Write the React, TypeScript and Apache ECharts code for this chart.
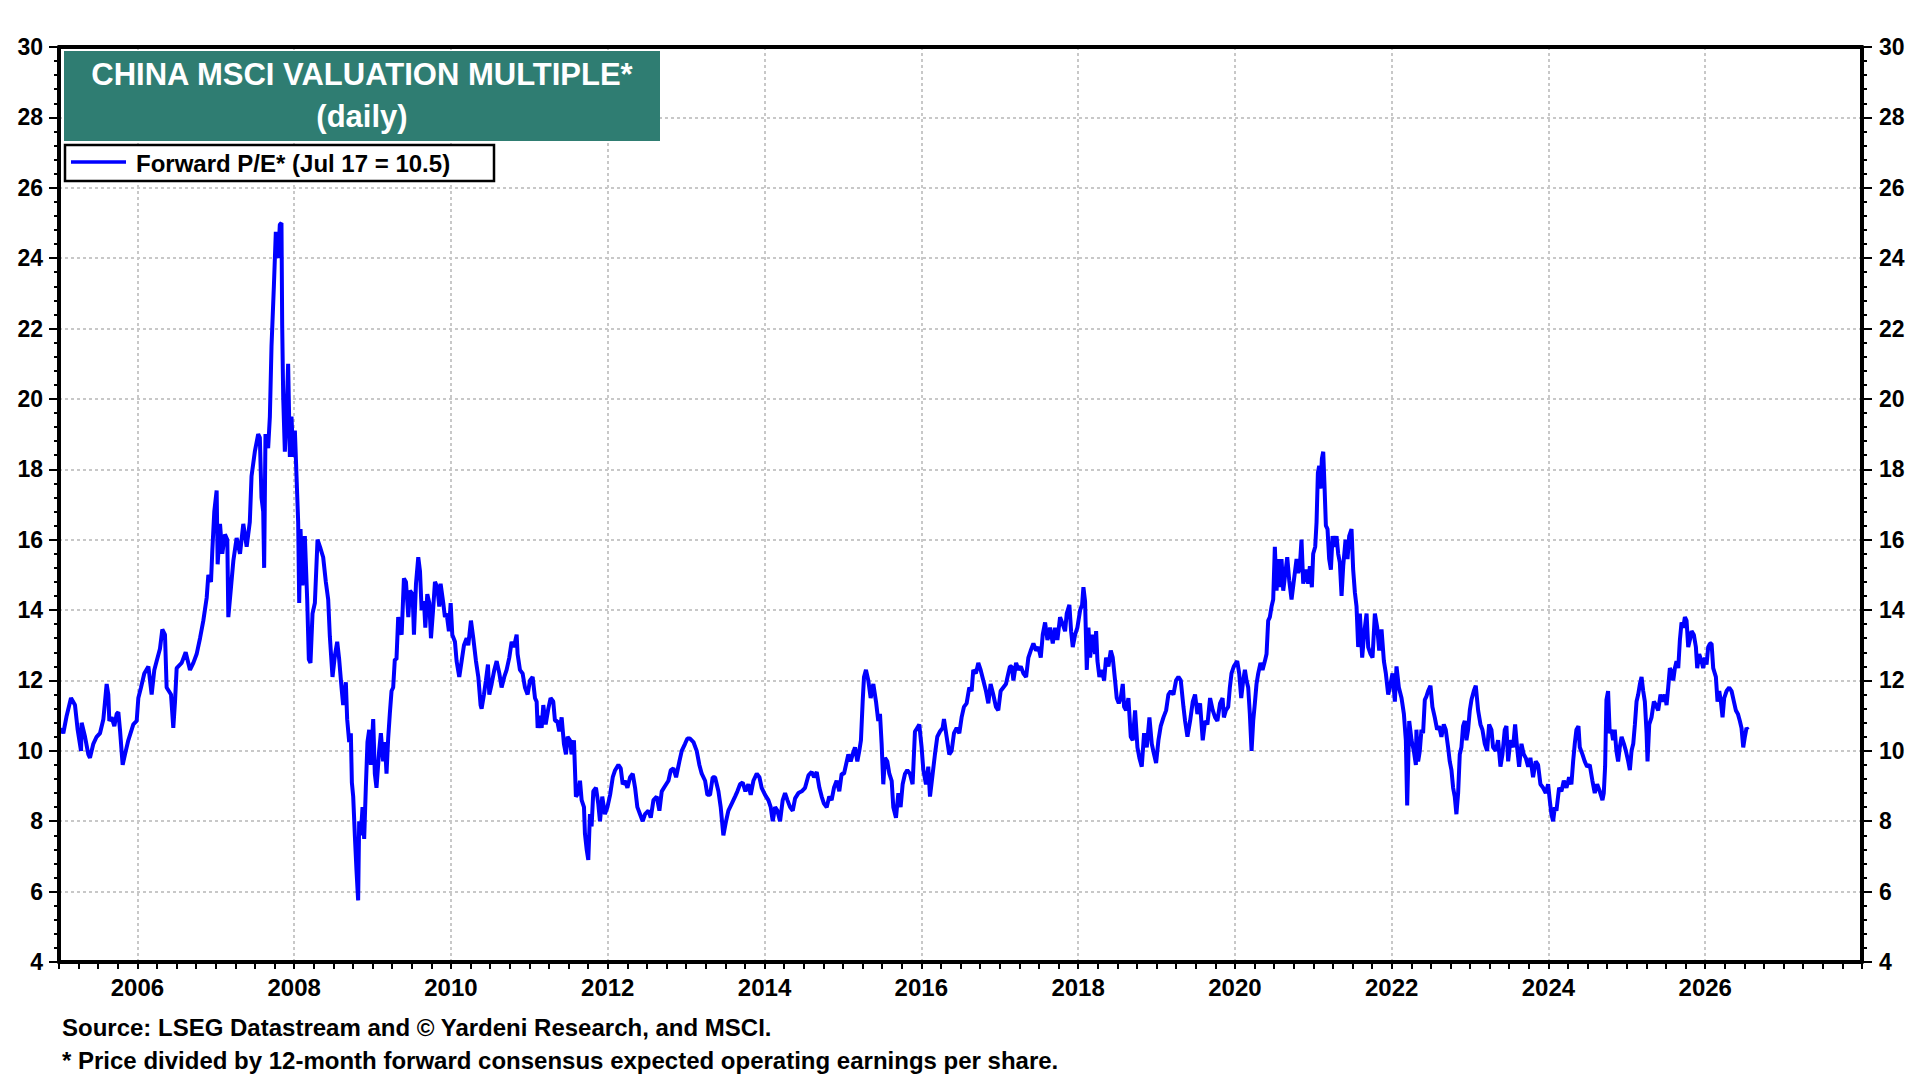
import React, { useEffect, useRef } from "react";
import * as echarts from "echarts";

// ---------- DATA (decimal year, forward P/E) ----------
const pe2005to2007: [number, number][] = [
  [2005.0, 10.6], [2005.034, 10.6], [2005.055, 10.5], [2005.098, 11.0], [2005.153, 11.5], [2005.204, 11.3],
  [2005.238, 10.6], [2005.281, 10.0], [2005.289, 10.8], [2005.332, 10.4], [2005.374, 9.9], [2005.395, 9.8],
  [2005.438, 10.2], [2005.48, 10.4], [2005.523, 10.5], [2005.566, 10.9], [2005.587, 11.4], [2005.608, 11.9],
  [2005.629, 11.6], [2005.642, 10.85], [2005.672, 10.95], [2005.706, 10.7], [2005.736, 11.05], [2005.757, 11.1],
  [2005.778, 10.6], [2005.812, 9.6], [2005.842, 9.9], [2005.884, 10.3], [2005.948, 10.75], [2005.991, 10.85],
  [2006.012, 11.5], [2006.046, 11.8], [2006.088, 12.2], [2006.14, 12.4], [2006.182, 11.6], [2006.216, 12.3],
  [2006.246, 12.55], [2006.288, 12.9], [2006.318, 13.45], [2006.352, 13.3], [2006.373, 11.8], [2006.429, 11.6],
  [2006.458, 10.65], [2006.48, 11.4], [2006.501, 12.35], [2006.565, 12.5], [2006.616, 12.8], [2006.671, 12.3],
  [2006.714, 12.5], [2006.756, 12.75], [2006.799, 13.2], [2006.841, 13.7], [2006.884, 14.35], [2006.905, 15.0],
  [2006.939, 14.8], [2006.956, 15.7], [2006.981, 16.8], [2007.011, 17.4], [2007.024, 15.3], [2007.054, 16.45],
  [2007.083, 15.6], [2007.117, 16.15], [2007.147, 16.0], [2007.16, 13.8], [2007.194, 14.65], [2007.224, 15.4],
  [2007.266, 16.05], [2007.309, 15.6], [2007.351, 16.45], [2007.394, 15.8],
];

const pe2007to2009: [number, number][] = [
  [2007.434, 16.5], [2007.456, 17.8], [2007.498, 18.5], [2007.541, 19.0], [2007.562, 18.9], [2007.583, 17.2],
  [2007.605, 16.8], [2007.617, 15.2], [2007.634, 19.0], [2007.668, 18.6], [2007.69, 19.5], [2007.711, 21.5],
  [2007.741, 23.2], [2007.766, 24.75], [2007.796, 24.0], [2007.817, 24.95], [2007.838, 25.0], [2007.847, 22.1],
  [2007.86, 20.05], [2007.881, 18.5], [2007.902, 19.5], [2007.923, 21.0], [2007.945, 18.35], [2007.966, 19.5],
  [2007.987, 18.35], [2008.009, 19.1], [2008.03, 17.8], [2008.051, 16.5], [2008.064, 14.2], [2008.081, 16.3],
  [2008.106, 14.7], [2008.136, 16.1], [2008.166, 14.3], [2008.187, 12.6], [2008.208, 12.5], [2008.234, 13.9],
  [2008.264, 14.2], [2008.298, 16.0], [2008.336, 15.75], [2008.37, 15.5], [2008.404, 14.8], [2008.434, 14.3],
  [2008.455, 13.25], [2008.489, 12.1], [2008.519, 12.7], [2008.549, 13.1], [2008.574, 12.6], [2008.604, 11.8],
  [2008.625, 11.3], [2008.659, 11.95], [2008.676, 10.9], [2008.702, 10.25], [2008.723, 10.5], [2008.736, 9.1],
  [2008.753, 8.7], [2008.774, 7.6], [2008.795, 6.6], [2008.816, 5.75], [2008.829, 8.0], [2008.85, 7.6],
  [2008.872, 8.4], [2008.893, 7.5], [2008.914, 8.95], [2008.935, 10.25], [2008.957, 10.6], [2008.978, 9.6],
  [2009.008, 10.9], [2009.029, 9.35], [2009.05, 8.95], [2009.084, 10.0], [2009.106, 10.5], [2009.135, 9.7],
  [2009.157, 10.25], [2009.178, 9.35], [2009.199, 10.35], [2009.22, 11.05], [2009.242, 11.7], [2009.263, 11.8],
  [2009.284, 12.6], [2009.305, 12.6], [2009.327, 13.8], [2009.348, 13.5],
];

const pe2009to2011: [number, number][] = [
  [2009.371, 13.3], [2009.4, 14.9], [2009.426, 14.8], [2009.456, 13.8], [2009.477, 14.55], [2009.511, 14.45],
  [2009.528, 13.3], [2009.554, 14.75], [2009.583, 15.5], [2009.605, 15.1], [2009.626, 14.0], [2009.656, 14.25],
  [2009.673, 13.5], [2009.698, 14.45], [2009.724, 14.2], [2009.745, 13.2], [2009.775, 14.1], [2009.796, 14.8],
  [2009.826, 14.65], [2009.851, 14.1], [2009.868, 14.75], [2009.902, 14.2], [2009.923, 13.8], [2009.945, 13.9],
  [2009.974, 13.4], [2009.996, 14.2], [2010.017, 13.3], [2010.051, 13.1], [2010.072, 12.55], [2010.106, 12.1],
  [2010.136, 12.55], [2010.166, 13.0], [2010.2, 13.2], [2010.221, 13.0], [2010.255, 13.7], [2010.285, 13.2],
  [2010.319, 12.55], [2010.349, 12.1], [2010.378, 11.3], [2010.391, 11.2], [2010.421, 11.6], [2010.446, 12.0],
  [2010.472, 12.45], [2010.489, 11.6], [2010.519, 11.9], [2010.553, 12.3], [2010.583, 12.55], [2010.617, 12.2],
  [2010.646, 11.8], [2010.68, 12.1], [2010.71, 12.3], [2010.744, 12.65], [2010.774, 13.1], [2010.804, 12.95],
  [2010.838, 13.3], [2010.85, 12.75], [2010.88, 12.3], [2010.914, 12.2], [2010.944, 11.8], [2010.978, 11.6],
  [2011.008, 12.0], [2011.042, 12.1], [2011.072, 11.5], [2011.093, 11.4], [2011.106, 10.65], [2011.135, 11.0],
  [2011.157, 10.65], [2011.178, 11.3], [2011.208, 10.75], [2011.242, 11.2], [2011.271, 11.5], [2011.305, 11.4],
  [2011.327, 10.85], [2011.356, 10.85], [2011.382, 10.55], [2011.412, 10.95], [2011.441, 10.2], [2011.467, 9.9],
  [2011.488, 10.4], [2011.518, 10.3], [2011.539, 9.9], [2011.569, 10.3], [2011.594, 8.7], [2011.624, 8.8],
  [2011.646, 9.15], [2011.667, 8.6], [2011.697, 8.4], [2011.709, 7.65], [2011.731, 7.2], [2011.752, 6.9],
  [2011.773, 8.2], [2011.794, 7.85], [2011.816, 8.85], [2011.85, 8.95], [2011.879, 8.5], [2011.901, 8.0],
  [2011.93, 8.7], [2011.964, 8.2],
];

const pe2012to2014: [number, number][] = [
  [2011.996, 8.4], [2012.03, 8.75], [2012.064, 9.25], [2012.094, 9.45], [2012.136, 9.6], [2012.166, 9.5],
  [2012.191, 9.05], [2012.221, 9.15], [2012.251, 8.95], [2012.285, 9.25], [2012.319, 9.35], [2012.349, 8.95],
  [2012.378, 8.4], [2012.412, 8.2], [2012.446, 8.0], [2012.476, 8.2], [2012.519, 8.3], [2012.549, 8.1],
  [2012.583, 8.6], [2012.625, 8.7], [2012.659, 8.3], [2012.689, 8.85], [2012.731, 9.0], [2012.774, 9.15],
  [2012.804, 9.45], [2012.838, 9.5], [2012.872, 9.25], [2012.914, 9.7], [2012.944, 10.0], [2012.986, 10.2],
  [2013.016, 10.35], [2013.05, 10.35], [2013.093, 10.25], [2013.135, 10.0], [2013.169, 9.6], [2013.199, 9.35],
  [2013.242, 9.15], [2013.271, 8.75], [2013.305, 8.75], [2013.339, 9.25], [2013.369, 9.25], [2013.412, 8.85],
  [2013.441, 8.4], [2013.475, 7.6], [2013.509, 8.0], [2013.539, 8.3], [2013.582, 8.5], [2013.624, 8.7],
  [2013.654, 8.85], [2013.688, 9.05], [2013.722, 9.1], [2013.756, 8.85], [2013.794, 9.05], [2013.824, 8.75],
  [2013.858, 9.15], [2013.901, 9.35], [2013.935, 9.25], [2013.964, 8.95], [2014.007, 8.75], [2014.049, 8.6],
  [2014.079, 8.4], [2014.105, 8.0], [2014.135, 8.4], [2014.164, 8.3], [2014.198, 8.0], [2014.232, 8.6],
  [2014.262, 8.8], [2014.292, 8.6], [2014.326, 8.4], [2014.36, 8.3], [2014.39, 8.65], [2014.432, 8.8],
  [2014.475, 8.85], [2014.517, 8.95], [2014.56, 9.3], [2014.602, 9.4], [2014.632, 9.25], [2014.666, 9.4],
  [2014.7, 8.95],
];

const pe2014to2016: [number, number][] = [
  [2014.729, 8.7], [2014.758, 8.5], [2014.793, 8.4], [2014.826, 8.7], [2014.856, 8.6], [2014.886, 8.95],
  [2014.92, 9.15], [2014.954, 8.85], [2014.984, 9.35], [2015.014, 9.35], [2015.039, 9.6], [2015.069, 9.9],
  [2015.099, 9.7], [2015.124, 9.9], [2015.154, 10.1], [2015.184, 9.7], [2015.209, 10.0], [2015.23, 10.3],
  [2015.252, 11.4], [2015.269, 12.1], [2015.294, 12.3], [2015.324, 12.0], [2015.354, 11.5], [2015.388, 11.9],
  [2015.422, 11.4], [2015.451, 10.85], [2015.473, 11.05], [2015.494, 10.2], [2015.515, 9.05], [2015.537, 9.8],
  [2015.566, 9.7], [2015.592, 9.35], [2015.622, 9.15], [2015.643, 8.4], [2015.677, 8.1], [2015.707, 8.8],
  [2015.736, 8.4], [2015.762, 9.05], [2015.792, 9.35], [2015.821, 9.45], [2015.855, 9.35], [2015.889, 9.05],
  [2015.919, 10.55], [2015.949, 10.65], [2015.974, 10.75], [2016.004, 10.1], [2016.026, 9.45], [2016.06, 9.05],
  [2016.089, 9.55], [2016.111, 8.7], [2016.145, 9.35], [2016.174, 9.9], [2016.204, 10.4], [2016.238, 10.55],
  [2016.272, 10.65], [2016.289, 10.9], [2016.323, 10.4], [2016.357, 9.9], [2016.387, 10.0], [2016.417, 10.5],
  [2016.451, 10.65], [2016.485, 10.5], [2016.514, 10.95], [2016.544, 11.25], [2016.578, 11.35], [2016.612, 11.8],
  [2016.642, 11.7], [2016.663, 12.3], [2016.697, 12.2], [2016.727, 12.5], [2016.757, 12.3], [2016.791, 12.0],
  [2016.825, 11.7], [2016.855, 11.35], [2016.884, 11.9], [2016.918, 11.6], [2016.952, 11.25], [2016.982, 11.15],
  [2017.012, 11.7], [2017.046, 11.8], [2017.08, 11.9], [2017.11, 12.2], [2017.131, 12.4],
];

const pe2017to2019: [number, number][] = [
  [2017.154, 12.4], [2017.175, 12.0], [2017.209, 12.5], [2017.239, 12.3], [2017.269, 12.4], [2017.303, 12.2],
  [2017.337, 12.1], [2017.366, 12.65], [2017.396, 12.85], [2017.43, 13.05], [2017.464, 12.85], [2017.494, 12.95],
  [2017.524, 12.65], [2017.549, 13.3], [2017.579, 13.65], [2017.609, 13.15], [2017.643, 13.5], [2017.677, 13.05],
  [2017.707, 13.5], [2017.736, 13.15], [2017.77, 13.8], [2017.804, 13.6], [2017.834, 13.4], [2017.855, 13.9],
  [2017.889, 14.15], [2017.911, 13.4], [2017.932, 12.95], [2017.962, 13.3], [2017.991, 13.5], [2018.026, 14.0],
  [2018.051, 14.15], [2018.068, 14.65], [2018.089, 14.25], [2018.111, 12.3], [2018.132, 13.5], [2018.153, 12.65],
  [2018.187, 13.3], [2018.217, 12.75], [2018.23, 13.4], [2018.247, 12.55], [2018.272, 12.1], [2018.302, 12.3],
  [2018.332, 12.0], [2018.357, 12.65], [2018.387, 12.4], [2018.417, 12.85], [2018.442, 12.65], [2018.472, 12.0],
  [2018.493, 11.5], [2018.519, 11.35], [2018.544, 11.5], [2018.57, 11.9], [2018.587, 11.25], [2018.612, 11.15],
  [2018.642, 11.5], [2018.672, 10.4], [2018.697, 10.3], [2018.727, 11.15], [2018.757, 10.1], [2018.782, 9.8],
  [2018.812, 9.55], [2018.842, 10.5], [2018.876, 10.1], [2018.91, 10.95], [2018.94, 10.2], [2018.969, 9.9],
  [2018.995, 9.65], [2019.025, 10.3], [2019.054, 10.7], [2019.089, 10.95], [2019.123, 11.15], [2019.152, 11.6],
  [2019.182, 11.7], [2019.216, 11.6], [2019.25, 12.0], [2019.28, 12.1], [2019.31, 12.0], [2019.344, 11.25],
  [2019.365, 10.85], [2019.395, 10.4], [2019.429, 10.85], [2019.463, 11.4], [2019.492, 11.6], [2019.522, 11.05],
  [2019.556, 11.35], [2019.59, 10.3], [2019.62, 10.85], [2019.65, 10.75], [2019.684, 11.5], [2019.718, 11.15],
  [2019.748, 10.95], [2019.777, 10.85], [2019.811, 11.35],
];

const pe2019to2022: [number, number][] = [
  [2019.843, 11.5], [2019.86, 10.95], [2019.885, 11.15], [2019.915, 11.25], [2019.936, 11.8], [2019.957, 12.2],
  [2019.987, 12.4], [2020.03, 12.55], [2020.055, 12.2], [2020.081, 11.5], [2020.106, 12.0], [2020.128, 12.3],
  [2020.149, 12.0], [2020.17, 11.8], [2020.191, 11.05], [2020.213, 10.0], [2020.234, 10.85], [2020.255, 11.35],
  [2020.276, 11.9], [2020.298, 12.2], [2020.327, 12.5], [2020.353, 12.3], [2020.383, 12.55], [2020.404, 12.75],
  [2020.425, 13.7], [2020.446, 13.8], [2020.468, 14.1], [2020.489, 14.3], [2020.51, 15.8], [2020.532, 14.55],
  [2020.553, 15.45], [2020.574, 14.65], [2020.595, 15.45], [2020.617, 14.55], [2020.638, 14.95], [2020.668, 15.5],
  [2020.693, 14.85], [2020.723, 14.3], [2020.753, 14.85], [2020.787, 15.45], [2020.808, 15.05], [2020.829, 15.25],
  [2020.85, 16.0], [2020.872, 14.75], [2020.906, 15.15], [2020.935, 14.75], [2020.957, 15.25], [2020.982, 14.65],
  [2020.999, 15.6], [2021.025, 15.8], [2021.042, 16.5], [2021.059, 17.9], [2021.076, 18.1], [2021.093, 17.45],
  [2021.11, 18.3], [2021.127, 18.5], [2021.144, 17.5], [2021.161, 16.4], [2021.182, 16.3], [2021.203, 15.45],
  [2021.225, 15.15], [2021.246, 16.1], [2021.276, 15.8], [2021.297, 16.1], [2021.318, 15.6], [2021.339, 15.35],
  [2021.361, 14.4], [2021.382, 15.25], [2021.412, 16.0], [2021.437, 15.45], [2021.458, 16.1], [2021.488, 16.3],
  [2021.509, 15.15], [2021.531, 14.5], [2021.552, 14.1], [2021.573, 12.95], [2021.595, 13.9], [2021.624, 12.65],
  [2021.65, 13.35], [2021.68, 13.9], [2021.701, 12.95], [2021.731, 12.75], [2021.756, 12.65], [2021.786, 13.9],
  [2021.816, 13.5], [2021.841, 12.85], [2021.871, 13.45], [2021.901, 12.55], [2021.926, 12.2], [2021.956, 11.6],
  [2021.986, 11.9], [2022.011, 12.2], [2022.041, 11.4], [2022.062, 12.4], [2022.092, 11.8], [2022.126, 11.5],
  [2022.156, 11.05], [2022.181, 10.3], [2022.198, 8.45], [2022.224, 10.85], [2022.254, 10.3], [2022.283, 10.0],
  [2022.309, 9.6],
];

const pe2022to2024: [number, number][] = [
  [2022.316, 10.6], [2022.338, 9.7], [2022.359, 10.0], [2022.38, 10.6], [2022.401, 10.5], [2022.423, 11.45],
  [2022.444, 11.55], [2022.465, 11.7], [2022.495, 11.85], [2022.52, 11.25], [2022.55, 10.95], [2022.58, 10.6],
  [2022.605, 10.7], [2022.635, 10.4], [2022.665, 10.75], [2022.69, 10.6], [2022.72, 10.1], [2022.741, 9.7],
  [2022.763, 9.45], [2022.784, 8.95], [2022.805, 8.7], [2022.826, 8.2], [2022.848, 8.8], [2022.869, 9.9],
  [2022.89, 10.1], [2022.911, 10.7], [2022.933, 10.85], [2022.954, 10.3], [2022.975, 10.6], [2022.997, 11.15],
  [2023.018, 11.45], [2023.048, 11.7], [2023.073, 11.85], [2023.103, 11.15], [2023.133, 10.75], [2023.158, 10.6],
  [2023.188, 10.2], [2023.218, 10.0], [2023.243, 10.75], [2023.273, 10.6], [2023.294, 10.1], [2023.328, 10.0],
  [2023.358, 10.3], [2023.388, 9.55], [2023.413, 9.9], [2023.443, 10.6], [2023.464, 10.7], [2023.486, 9.7],
  [2023.515, 10.3], [2023.549, 10.1], [2023.575, 10.75], [2023.6, 10.1], [2023.626, 9.55], [2023.656, 10.2],
  [2023.685, 9.9], [2023.711, 9.8], [2023.741, 9.55], [2023.77, 9.8], [2023.804, 9.25], [2023.838, 9.7],
  [2023.868, 9.6], [2023.898, 9.05], [2023.932, 8.95], [2023.966, 8.8], [2023.996, 9.05], [2024.017, 8.6],
  [2024.038, 8.2], [2024.06, 8.0], [2024.081, 8.4], [2024.102, 8.3], [2024.136, 8.95], [2024.166, 8.85],
  [2024.196, 9.15], [2024.23, 8.95], [2024.264, 9.25], [2024.293, 9.05], [2024.315, 9.7], [2024.336, 10.2],
  [2024.357, 10.6], [2024.383, 10.7], [2024.4, 10.1], [2024.434, 9.9], [2024.463, 9.7], [2024.493, 9.55],
  [2024.527, 9.6], [2024.561, 9.15], [2024.591, 8.8], [2024.621, 9.05], [2024.655, 8.85], [2024.689, 8.6],
  [2024.706, 8.8], [2024.723, 9.55], [2024.74, 11.45], [2024.761, 11.7], [2024.782, 10.5], [2024.804, 10.6],
  [2024.825, 10.3], [2024.846, 10.6], [2024.867, 10.0], [2024.889, 9.7], [2024.91, 10.1],
];

const pe2024to2026: [number, number][] = [
  [2024.933, 10.4], [2024.963, 10.2], [2024.988, 10.0], [2025.018, 9.7], [2025.039, 9.45], [2025.06, 10.0],
  [2025.082, 10.2], [2025.103, 10.75], [2025.124, 11.4], [2025.145, 11.6], [2025.167, 11.9], [2025.188, 12.1],
  [2025.209, 11.7], [2025.23, 11.4], [2025.252, 10.5], [2025.264, 9.7], [2025.286, 10.75], [2025.315, 10.95],
  [2025.345, 11.4], [2025.371, 11.3], [2025.4, 11.15], [2025.43, 11.6], [2025.456, 11.4], [2025.486, 11.6],
  [2025.507, 11.3], [2025.528, 11.8], [2025.549, 12.35], [2025.571, 12.25], [2025.592, 12.0], [2025.613, 12.35],
  [2025.634, 12.55], [2025.656, 12.35], [2025.677, 13.15], [2025.698, 13.65], [2025.719, 13.5], [2025.741, 13.8],
  [2025.762, 13.7], [2025.783, 12.95], [2025.804, 13.15], [2025.826, 13.4], [2025.855, 13.3], [2025.881, 12.95],
  [2025.898, 12.35], [2025.923, 12.75], [2025.953, 12.55], [2025.974, 12.35], [2025.996, 12.65], [2026.017, 12.45],
  [2026.038, 12.95], [2026.06, 13.05], [2026.081, 13.05], [2026.102, 12.35], [2026.136, 12.1], [2026.157, 11.4],
  [2026.179, 11.7], [2026.2, 11.4], [2026.221, 10.95], [2026.242, 11.5], [2026.272, 11.7], [2026.306, 11.8],
  [2026.336, 11.7], [2026.366, 11.4], [2026.391, 11.15], [2026.417, 11.05], [2026.442, 10.85], [2026.463, 10.65],
  [2026.485, 10.1], [2026.506, 10.4], [2026.527, 10.65], [2026.546, 10.6],
];

const xMin = 2005;
const xMax = 2028;
const yMin = 4;
const yMax = 30;
const yearGridLines = [2006, 2008, 2010, 2012, 2014, 2016, 2018, 2020, 2022, 2024, 2026];
const valueGridLines = [6, 8, 10, 12, 14, 16, 18, 20, 22, 24, 26, 28];

const titleLines = ["CHINA MSCI VALUATION MULTIPLE*", "(daily)"];
const legendLabel = "Forward P/E* (Jul 17 = 10.5)";
const sourceNotes = [
  "Source: LSEG Datastream and \u00A9 Yardeni Research, and MSCI.",
  "* Price divided by 12-month forward consensus expected operating earnings per share.",
];

const FONT = "'Liberation Sans', Arial, Helvetica, sans-serif";

export default function App() {
  const ref = useRef<HTMLDivElement>(null);

  useEffect(() => {
    document.body.style.margin = "0";
    if (!ref.current) return;
    const chart = echarts.init(ref.current, null, { renderer: "svg" });

    const seriesData = [
      ...pe2005to2007,
      ...pe2007to2009,
      ...pe2009to2011,
      ...pe2012to2014,
      ...pe2014to2016,
      ...pe2017to2019,
      ...pe2019to2022,
      ...pe2022to2024,
      ...pe2024to2026,
    ];

    const gridLineStyle = { color: "#c8c8c8", width: 2, type: [3, 3] as number[] };
    const frameLine = { color: "#000", width: 4 };

    const yAxisCommon = {
      type: "value" as const,
      min: yMin,
      max: yMax,
      interval: 2,
      splitLine: { show: false },
      axisLine: { show: true, lineStyle: frameLine },
      axisTick: { show: true, inside: false, length: 10, lineStyle: { color: "#000", width: 2 } },
      minorTick: { show: true, splitNumber: 5, length: 5, lineStyle: { color: "#000", width: 2 } },
      axisLabel: {
        color: "#000",
        fontSize: 23,
        fontWeight: "bold" as const,
        fontFamily: FONT,
      },
      z: 6,
    };

    chart.setOption({
      animation: false,
      backgroundColor: "#fff",
      grid: {
        left: 59,
        right: 58,
        top: 47,
        bottom: 118,
        show: false,
      },
      xAxis: [
        {
          type: "value",
          min: xMin,
          max: xMax,
          interval: 1,
          position: "bottom",
          z: 6,
          axisLine: { show: true, onZero: false, lineStyle: frameLine },
          axisTick: { show: true, inside: false, length: 7, lineStyle: { color: "#000", width: 2 } },
          minorTick: { show: true, splitNumber: 4, length: 7, lineStyle: { color: "#000", width: 2 } },
          splitLine: { show: false },
          axisLabel: {
            color: "#000",
            fontSize: 24,
            fontWeight: "bold",
            fontFamily: FONT,
            margin: 13,
            formatter: (v: number) =>
              v % 2 === 0 && v >= 2006 && v <= 2026 ? String(v) : "",
          },
        },
        {
          type: "value",
          min: xMin,
          max: xMax,
          position: "top",
          z: 6,
          axisLine: { show: true, onZero: false, lineStyle: frameLine },
          axisTick: { show: false },
          axisLabel: { show: false },
          splitLine: { show: false },
        },
      ],
      yAxis: [
        {
          ...yAxisCommon,
          position: "left",
          axisLabel: { ...yAxisCommon.axisLabel, margin: 16 },
        },
        {
          ...yAxisCommon,
          position: "right",
          axisLabel: { ...yAxisCommon.axisLabel, margin: 17 },
        },
      ],
      series: [
        {
          name: "grid",
          type: "line",
          data: [],
          z: 1,
          silent: true,
          markLine: {
            silent: true,
            symbol: ["none", "none"],
            label: { show: false },
            lineStyle: gridLineStyle,
            emphasis: { disabled: true },
            data: [
              ...yearGridLines.map((y) => ({ xAxis: y })),
              ...valueGridLines.map((v) => ({ yAxis: v })),
            ],
          },
        },
        {
          name: legendLabel,
          type: "line",
          data: seriesData,
          showSymbol: false,
          symbol: "none",
          z: 5,
          lineStyle: { color: "#0000ff", width: 4 },
          itemStyle: { color: "#0000ff" },
        },
      ],
      graphic: [
        {
          type: "rect",
          shape: { x: 64, y: 51, width: 596, height: 90 },
          style: { fill: "#2f7d72" },
          z: 10,
        },
        {
          type: "text",
          x: 362,
          y: 74,
          style: {
            text: titleLines[0],
            fill: "#fff",
            font: `bold 31px ${FONT}`,
            textAlign: "center",
            textVerticalAlign: "middle",
          },
          z: 11,
        },
        {
          type: "text",
          x: 362,
          y: 116,
          style: {
            text: titleLines[1],
            fill: "#fff",
            font: `bold 31px ${FONT}`,
            textAlign: "center",
            textVerticalAlign: "middle",
          },
          z: 11,
        },
        {
          type: "rect",
          shape: { x: 65, y: 145, width: 429, height: 36 },
          style: { fill: "#fff", stroke: "#000", lineWidth: 2.5 },
          z: 10,
        },
        {
          type: "line",
          shape: { x1: 71, y1: 162, x2: 126, y2: 162 },
          style: { stroke: "#0000ff", lineWidth: 3.5 },
          z: 11,
        },
        {
          type: "text",
          x: 136,
          y: 163,
          style: {
            text: legendLabel,
            fill: "#000",
            font: `bold 24px ${FONT}`,
            textAlign: "left",
            textVerticalAlign: "middle",
          },
          z: 11,
        },
        {
          type: "text",
          x: 62,
          y: 1027,
          style: {
            text: sourceNotes[0],
            fill: "#000",
            font: `bold 24px ${FONT}`,
            textAlign: "left",
            textVerticalAlign: "middle",
          },
        },
        {
          type: "text",
          x: 62,
          y: 1060,
          style: {
            text: sourceNotes[1],
            fill: "#000",
            font: `bold 24px ${FONT}`,
            textAlign: "left",
            textVerticalAlign: "middle",
          },
        },
      ],
    });

    return () => {
      chart.dispose();
    };
  }, []);

  return (
    <div
      ref={ref}
      style={{ position: "absolute", left: 0, top: 0, width: 1920, height: 1080, background: "#fff" }}
    />
  );
}
